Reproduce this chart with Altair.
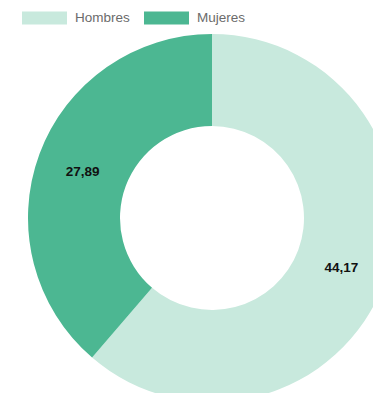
import altair as alt
import pandas as pd

categories = ["Hombres", "Mujeres"]
values = [44.17, 27.89]
labels = ["44,17", "27,89"]
colors = ["#c8e9dd", "#4cb792"]

df = pd.DataFrame({"categoria": categories, "valor": values, "etiqueta": labels, "orden": [0, 1]})

base = alt.Chart(df).encode(
    theta=alt.Theta("valor:Q", stack=True),
    order=alt.Order("orden:Q"),
    x=alt.value(204),
    y=alt.value(210),
)

arcs = base.mark_arc(outerRadius=184, innerRadius=92).encode(
    color=alt.Color(
        "categoria:N",
        scale=alt.Scale(domain=categories, range=colors),
        legend=alt.Legend(
            title=None,
            orient="none",
            legendX=14,
            legendY=-13,
            direction="horizontal",
            symbolType="M-1,-0.289L1,-0.289L1,0.289L-1,0.289Z",
            symbolSize=2025,
            symbolStrokeWidth=0,
            labelFont="Liberation Sans",
            labelFontSize=13.5,
            labelColor="#6b6b6b",
            labelOffset=8,
            columnPadding=14,
            padding=0,
        ),
    )
)

texts = base.mark_text(radius=138, dy=2, font="Liberation Sans", fontSize=13.5, fontWeight="bold", color="#111111").encode(
    text="etiqueta:N"
)

chart = (
    alt.layer(arcs, texts)
    .properties(width=365, height=385, padding=0, autosize=alt.AutoSizeParams(type="none"))
    .configure_view(stroke=None)
)

chart.save("out.html", embed_options={"renderer": "svg", "actions": False})
